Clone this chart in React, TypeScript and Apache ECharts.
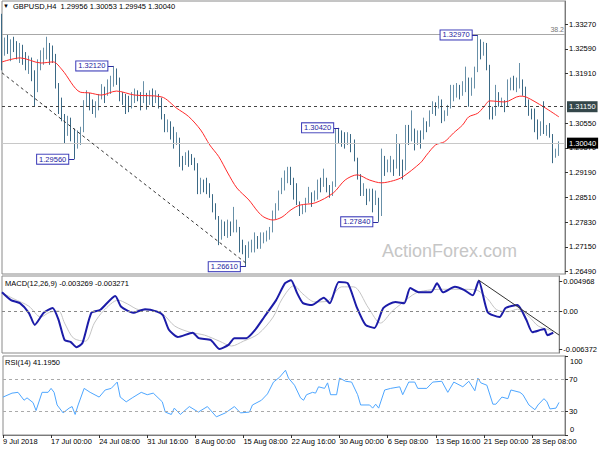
import React, { useEffect, useRef } from "react";
import * as echarts from "echarts";

// ---- price bars (8h buckets) ----
const firstOpen = 1.333;
const highs = [
  1.3355, 1.329, 1.3298, 1.3285, 1.3292, 1.328, 1.3275, 1.327, 1.325, 1.324,
  1.3235, 1.32, 1.323, 1.3255, 1.3262, 1.3292, 1.3275, 1.3268, 1.3245, 1.316,
  1.3125, 1.308, 1.3075, 1.307, 1.304, 1.3035, 1.3045, 1.3118, 1.3145, 1.3138,
  1.312, 1.3115, 1.3135, 1.3162, 1.3155, 1.3175, 1.3185, 1.3212, 1.3205, 1.318,
  1.314, 1.3135, 1.313, 1.314, 1.315, 1.3145, 1.314, 1.317, 1.3138, 1.3145,
  1.315, 1.3145, 1.3135, 1.3125, 1.308, 1.3065, 1.306, 1.3045, 1.303, 1.301,
  1.2965, 1.2975, 1.298, 1.297, 1.296, 1.2945, 1.2905, 1.29, 1.2905, 1.289,
  1.285, 1.2835, 1.2795, 1.279, 1.2785, 1.279, 1.2785, 1.2825, 1.279, 1.2735,
  1.2735, 1.272, 1.273, 1.2735, 1.2755, 1.2745, 1.2755, 1.2755, 1.276, 1.277,
  1.2815, 1.2835, 1.287, 1.2905, 1.2925, 1.2935, 1.2935, 1.2905, 1.289, 1.283,
  1.283, 1.285, 1.288, 1.286, 1.287, 1.29, 1.2905, 1.293, 1.2905, 1.2885,
  1.2895, 1.304, 1.3042, 1.3035, 1.303, 1.303, 1.3025, 1.301, 1.294, 1.2895,
  1.289, 1.2875, 1.2875, 1.2875, 1.287, 1.285, 1.2985, 1.2965, 1.2955, 1.2965,
  1.2955, 1.3025, 1.2985, 1.295, 1.305, 1.305, 1.309, 1.304, 1.3035, 1.3035,
  1.307, 1.306, 1.309, 1.3115, 1.3112, 1.313, 1.3095, 1.309, 1.3105, 1.316,
  1.316, 1.3165, 1.316, 1.317, 1.321, 1.3172, 1.318, 1.321, 1.3297, 1.3285,
  1.3278, 1.3275, 1.3165, 1.31, 1.316, 1.3125, 1.3125, 1.3118, 1.3175, 1.318,
  1.3185, 1.318, 1.322, 1.3175, 1.3155, 1.312, 1.3095, 1.3095, 1.3065, 1.306,
  1.3115, 1.305, 1.3055, 1.2995, 1.2985, 1.3005,
];
const lows = [
  1.32, 1.324, 1.3245, 1.3225, 1.325, 1.323, 1.322, 1.3215, 1.32, 1.319,
  1.317, 1.3102, 1.314, 1.32, 1.3215, 1.323, 1.3215, 1.322, 1.315, 1.308,
  1.306, 1.3, 1.3025, 1.3005, 1.2956, 1.2985, 1.2995, 1.304, 1.31, 1.309,
  1.308, 1.307, 1.309, 1.312, 1.311, 1.313, 1.3135, 1.3155, 1.316, 1.3115,
  1.3105, 1.308, 1.3085, 1.3095, 1.311, 1.3115, 1.309, 1.311, 1.3092, 1.3105,
  1.31, 1.311, 1.3095, 1.3065, 1.303, 1.303, 1.301, 1.2985, 1.2995, 1.2935,
  1.2925, 1.294, 1.2935, 1.294, 1.2925, 1.286, 1.286, 1.2865, 1.286, 1.285,
  1.281, 1.279, 1.272, 1.2735, 1.2745, 1.274, 1.2745, 1.2755, 1.2755, 1.27,
  1.2695, 1.2661, 1.269, 1.27, 1.27, 1.271, 1.271, 1.2725, 1.273, 1.2735,
  1.2755, 1.279, 1.2815, 1.286, 1.287, 1.289, 1.2885, 1.2845, 1.283, 1.28,
  1.2805, 1.281, 1.2835, 1.2825, 1.284, 1.2845, 1.2865, 1.288, 1.2865, 1.285,
  1.2855, 1.288, 1.3, 1.299, 1.2985, 1.2995, 1.2975, 1.295, 1.29, 1.2855,
  1.2855, 1.283, 1.284, 1.281, 1.283, 1.2784, 1.283, 1.291, 1.292, 1.292,
  1.291, 1.2935, 1.291, 1.29, 1.298, 1.2995, 1.3005, 1.298, 1.2995, 1.2985,
  1.302, 1.303, 1.306, 1.308, 1.3075, 1.3095, 1.3055, 1.306, 1.3075, 1.311,
  1.3115, 1.3125, 1.312, 1.313, 1.314, 1.31, 1.313, 1.315, 1.3195, 1.323,
  1.324, 1.32, 1.3065, 1.3065, 1.3075, 1.31, 1.31, 1.3085, 1.3125, 1.3145,
  1.3145, 1.314, 1.315, 1.313, 1.31, 1.3075, 1.3065, 1.303, 1.301, 1.302,
  1.3025, 1.302, 1.3015, 1.2945, 1.296, 1.2965,
];
const closes = [
  1.326, 1.3275, 1.326, 1.327, 1.3268, 1.3245, 1.3255, 1.323, 1.3215, 1.3225,
  1.3185, 1.315, 1.3215, 1.324, 1.3245, 1.326, 1.325, 1.3235, 1.3165, 1.311,
  1.307, 1.302, 1.306, 1.303, 1.2985, 1.302, 1.303, 1.3105, 1.3125, 1.311,
  1.3095, 1.31, 1.3125, 1.315, 1.314, 1.316, 1.317, 1.3195, 1.3175, 1.3125,
  1.312, 1.311, 1.31, 1.313, 1.3135, 1.3125, 1.312, 1.313, 1.311, 1.313,
  1.312, 1.3135, 1.311, 1.3075, 1.304, 1.305, 1.303, 1.301, 1.3015, 1.295,
  1.2945, 1.296, 1.2955, 1.295, 1.294, 1.288, 1.2885, 1.288, 1.2875, 1.286,
  1.2825, 1.28, 1.276, 1.277, 1.276, 1.2775, 1.2765, 1.277, 1.277, 1.2715,
  1.271, 1.2685, 1.2705, 1.272, 1.2735, 1.2725, 1.274, 1.2745, 1.275, 1.276,
  1.2805, 1.282, 1.286, 1.289, 1.291, 1.2915, 1.29, 1.286, 1.284, 1.2815,
  1.282, 1.2835, 1.2865, 1.284, 1.2855, 1.2885, 1.288, 1.29, 1.2875, 1.286,
  1.288, 1.302, 1.3015, 1.301, 1.3, 1.302, 1.2985, 1.296, 1.2915, 1.287,
  1.2875, 1.2845, 1.286, 1.283, 1.2845, 1.28, 1.295, 1.2935, 1.2945, 1.295,
  1.293, 1.3, 1.2955, 1.2925, 1.303, 1.3025, 1.304, 1.3, 1.302, 1.301,
  1.3055, 1.3045, 1.308, 1.31, 1.3095, 1.312, 1.3065, 1.308, 1.3095, 1.314,
  1.3145, 1.315, 1.3135, 1.3155, 1.318, 1.313, 1.316, 1.3195, 1.326, 1.3245,
  1.3265, 1.3215, 1.31, 1.308, 1.314, 1.311, 1.3115, 1.31, 1.316, 1.317,
  1.3165, 1.317, 1.3175, 1.314, 1.311, 1.309, 1.308, 1.3045, 1.303, 1.304,
  1.3035, 1.304, 1.3025, 1.296, 1.297, 1.3004,
];

// ---- moving average (red) ----
const maIdx = [0, 6, 13, 17, 20, 26, 29, 33, 38, 44, 53, 58, 62, 66, 69, 72, 75, 78, 82, 85, 87, 90, 93, 96, 99, 104, 110, 114, 118, 122, 126, 130, 133, 139, 141, 144, 147, 150, 153, 155, 158, 160, 162, 167, 172, 174, 180, 185];
const maVal = [1.3223, 1.3234, 1.322, 1.3223, 1.3201, 1.314, 1.3138, 1.3132, 1.3143, 1.3132, 1.3127, 1.3096, 1.3073, 1.3036, 1.2995, 1.2963, 1.2918, 1.2877, 1.2844, 1.2812, 1.2797, 1.2789, 1.2797, 1.2817, 1.283, 1.2836, 1.2863, 1.2899, 1.2913, 1.2899, 1.2891, 1.2897, 1.2907, 1.2946, 1.2967, 1.2995, 1.3004, 1.3028, 1.305, 1.3072, 1.3082, 1.3099, 1.3116, 1.3113, 1.3129, 1.3127, 1.3099, 1.3072];

// ---- MACD ----
const macdIdx = [0, 3, 6, 9, 11, 14, 17, 19, 21, 23, 25, 27, 30, 33, 38, 40, 44, 48, 52, 54, 56, 59, 64, 66, 70, 73, 76, 78, 82, 85, 88, 92, 95, 97, 99, 101, 104, 108, 110, 113, 116, 119, 122, 125, 128, 132, 135, 137, 140, 144, 146, 148, 152, 155, 158, 160, 163, 167, 169, 173, 176, 178, 182, 183, 185];
const macdVal = [0.0031, 0.0018, 0.0013, -0.0003, -0.0023, -0.0003, 0.0005, -0.0015, -0.0048, -0.0051, -0.006, -0.0053, -0.0003, 0.0002, 0.0025, 0.0007, -0.0003, 0.0003, -0.0001, -0.0007, -0.0031, -0.0043, -0.0036, -0.0045, -0.0048, -0.0063, -0.0056, -0.0045, -0.0045, -0.0031, -0.001, 0.0018, 0.0046, 0.0051, 0.003, 0.0013, 0.001, 0.0022, 0.0013, 0.0048, 0.0046, 0.0007, -0.0023, -0.0028, 0.0005, 0.0015, 0.0013, 0.0038, 0.0031, 0.0031, 0.0046, 0.0031, 0.004, 0.0035, 0.0026, 0.005, -0.0002, -0.001, 0.0005, 0.001, -0.0015, -0.0035, -0.003, -0.004, -0.0036];
const sigIdx = [0, 4, 9, 13, 16, 19, 21, 24, 28, 31, 34, 39, 42, 46, 51, 54, 58, 63, 68, 73, 77, 81, 86, 91, 94, 98, 101, 105, 109, 114, 118, 123, 127, 131, 134, 139, 144, 149, 154, 159, 163, 166, 170, 173, 177, 180, 185];
const sigVal = [0.003, 0.002, 0.0008, -0.001, -0.0002, 0.0, -0.002, -0.0045, -0.005, -0.002, 0.0, 0.0018, 0.0012, 0.0002, 0.0001, -0.0005, -0.0025, -0.0035, -0.004, -0.005, -0.0058, -0.005, -0.0038, -0.001, 0.002, 0.0042, 0.0028, 0.0015, 0.0016, 0.004, 0.004, 0.0005, -0.002, 0.0, 0.0012, 0.003, 0.0035, 0.0036, 0.0036, 0.0035, 0.002, 0.0002, -0.0001, 0.0003, -0.001, -0.0025, -0.0033];

// ---- RSI ----
const rsiIdx = [0, 3, 5, 7, 8, 10, 11, 13, 15, 16, 17, 18, 20, 22, 23, 24, 25, 27, 29, 32, 34, 36, 38, 39, 41, 43, 46, 48, 50, 53, 54, 56, 57, 59, 62, 65, 68, 71, 74, 77, 79, 82, 83, 86, 88, 90, 92, 94, 95, 97, 99, 100, 101, 103, 104, 105, 107, 108, 109, 111, 112, 114, 116, 118, 119, 122, 123, 124, 125, 127, 129, 132, 133, 135, 137, 138, 141, 143, 146, 148, 150, 153, 155, 157, 158, 159, 161, 163, 164, 166, 168, 169, 172, 173, 175, 177, 178, 180, 181, 182, 184, 185];
const rsiVal = [48, 53, 54, 44, 47, 41, 31, 54, 54, 59, 54, 38, 28, 34, 36, 26, 38, 59, 54, 48, 57, 59, 67, 48, 42, 47, 54, 51, 53, 42, 29, 26, 34, 26, 36, 29, 36, 23, 28, 36, 28, 29, 38, 44, 52, 67, 73, 82, 72, 63, 47, 44, 51, 54, 53, 61, 59, 66, 51, 51, 72, 68, 67, 51, 38, 38, 34, 39, 34, 57, 59, 61, 51, 67, 67, 59, 59, 67, 68, 54, 67, 61, 68, 56, 72, 66, 63, 39, 39, 48, 46, 57, 54, 51, 38, 32, 38, 46, 42, 33, 34, 41.2];

// ---- labels ----
const xLabels = ["9 Jul 2018", "17 Jul 00:00", "24 Jul 08:00", "31 Jul 16:00", "8 Aug 00:00", "15 Aug 08:00", "22 Aug 16:00", "30 Aug 00:00", "6 Sep 08:00", "13 Sep 16:00", "21 Sep 00:00", "28 Sep 08:00"];
const xLabelStep = 16;
const priceTicks = [1.3327, 1.3259, 1.3191, 1.3055, 1.2987, 1.2919, 1.2851, 1.2783, 1.2715, 1.2649];
const macdTicks = [0.004968, 0, -0.006372];
const rsiTicks = [100, 70, 30, 0];
const rsiInnerLabels = [70, 30];
const rsiTopLabel = "100";
const rsiBottomLabel = "0";
const pivotIdx = [37, 24, 81, 112, 125, 158];
const pivotVal = [1.3212, 1.2956, 1.2661, 1.3042, 1.2784, 1.3297];
const resistance = 1.3115;
const lastPrice = 1.3004;
const fibLevel = 1.3318;
const trendStart = [0, 1.3193];
const trendEnd = [81, 1.2671];
const macdTrendStart = [160, 0.0051];
const macdTrendEnd = [187, -0.004];
const title = "GBPUSD,H4  1.29956 1.30053 1.29945 1.30040";
const macdTitle = "MACD(12,26,9) -0.003269 -0.003271";
const rsiTitle = "RSI(14) 41.1950";

const FONT = "'Liberation Sans', Arial, sans-serif";
const FS = 7.5;

export default function App() {
  const ref = useRef<HTMLDivElement>(null);
  useEffect(() => {
    const chart = echarts.init(ref.current!, null, { renderer: "svg" });
    const nCat = 188;
    const cats = Array.from({ length: nCat }, (_, i) => String(i));
    const candles = closes.map((c, i) => {
      const o = i === 0 ? firstOpen : closes[i - 1];
      const h = Math.max(highs[i], o, c);
      const l = Math.min(lows[i], o, c);
      return [o, c, l, h];
    });
    const pairs = (idx: number[], val: number[]) => idx.map((x, k) => [x, val[k]]);
    const showLabel = (i: number) => i % xLabelStep === 0 && i / xLabelStep < xLabels.length;

    const hiddenX = (gi: number) => ({
      type: "category", gridIndex: gi, data: cats, boundaryGap: false,
      axisLabel: { show: false }, axisTick: { show: false }, axisLine: { show: false }, splitLine: { show: false },
    });
    const yBase = (gi: number, min: number, max: number, ticks: number[], labels: number[], fmt: (v: number) => string) => ({
      type: "value", gridIndex: gi, position: "right", min, max, scale: true,
      splitLine: { show: false },
      axisLine: { show: true, lineStyle: { color: "#7a7a7a" } },
      axisTick: { show: true, customValues: ticks, length: 3, lineStyle: { color: "#333" } },
      axisLabel: { customValues: labels, formatter: fmt, color: "#000", fontSize: FS, fontFamily: FONT, margin: 4 },
    });

    const boxLabel = (v: number) => ({
      show: true, position: "start", formatter: v.toFixed(5), distance: 0,
      color: "#1c1ca0", backgroundColor: "#ffffff", borderColor: "#3a3ab8", borderWidth: 1,
      padding: [1, 2, 0, 2], fontSize: FS, fontFamily: FONT,
    });
    const font = `${FS}px ${FONT}`;

    const option: any = {
      animation: false,
      backgroundColor: "#ffffff",
      textStyle: { fontFamily: FONT },
      grid: [
        { left: 2, right: 35, top: 1, height: 273, show: true, borderColor: "#8a8a8a", borderWidth: 1, backgroundColor: "transparent" },
        { left: 2, right: 35, top: 276, height: 77, show: true, borderColor: "#8a8a8a", borderWidth: 1, backgroundColor: "transparent" },
        { left: 2, right: 35, top: 356, height: 79, show: true, borderColor: "#8a8a8a", borderWidth: 1, backgroundColor: "transparent" },
      ],
      xAxis: [
        hiddenX(0),
        hiddenX(1),
        {
          type: "category", gridIndex: 2, data: cats, boundaryGap: false,
          axisLine: { show: true, lineStyle: { color: "#7a7a7a" } },
          axisTick: { show: true, interval: (i: number) => showLabel(i), length: 3, lineStyle: { color: "#333" } },
          axisLabel: {
            interval: (i: number) => showLabel(i),
            formatter: (_v: string, i: number) => xLabels[i / xLabelStep] ?? "",
            align: "left", margin: 2, color: "#000", fontSize: FS, fontFamily: FONT,
          },
          splitLine: { show: false },
        },
      ],
      yAxis: [
        yBase(0, 1.26408, 1.33902, priceTicks, priceTicks, (v) => v.toFixed(5)),
        yBase(1, -0.006955, 0.005796, macdTicks, macdTicks, (v) => (v === 0 ? "0.00" : v.toFixed(6))),
        yBase(2, 0, 100, rsiTicks, rsiInnerLabels, (v) => String(v)),
      ],
      graphic: [
        { type: "text", left: 3, top: 3, style: { text: "▼", font: `6px ${FONT}`, fill: "#000" } },
        { type: "text", left: 13, top: 2, style: { text: title, font, fill: "#000" } },
        { type: "text", left: 5, top: 279, style: { text: macdTitle, font, fill: "#000" } },
        { type: "text", left: 5, top: 358, style: { text: rsiTitle, font, fill: "#000" } },
        { type: "text", left: 570, top: 357, style: { text: rsiTopLabel, font, fill: "#000" } },
        { type: "text", left: 570, top: 425, style: { text: rsiBottomLabel, font, fill: "#000" } },
        { type: "text", left: 382, top: 242, z: -1, style: { text: "ActionForex.com", font: `18px ${FONT}`, fill: "#c6c6c6" } },
      ],
      series: [
        {
          type: "candlestick", xAxisIndex: 0, yAxisIndex: 0, data: candles, barWidth: 1,
          itemStyle: { color: "#7ea4ba", color0: "#3b6985", borderColor: "#6890a8", borderColor0: "#3b6985", borderWidth: 1 },
          markLine: {
            silent: true, symbol: ["none", "none"], animation: false,
            data: [
              { yAxis: fibLevel, lineStyle: { color: "#a8a8a8", type: "solid", width: 1 },
                label: { show: true, position: "insideEndTop", formatter: "38.2", color: "#777", fontSize: 7, fontFamily: FONT, distance: 1 } },
              { yAxis: resistance, lineStyle: { color: "#444", type: [3, 3], width: 1 },
                label: { show: true, position: "end", formatter: resistance.toFixed(5), color: "#fff", backgroundColor: "#34474a", padding: [2, 2, 1, 2], distance: 2, fontSize: FS, fontFamily: FONT } },
              { yAxis: lastPrice, lineStyle: { color: "#c8c8c8", type: "solid", width: 1 },
                label: { show: true, position: "end", formatter: lastPrice.toFixed(5), color: "#fff", backgroundColor: "#000", padding: [2, 2, 1, 2], distance: 2, fontSize: FS, fontFamily: FONT } },
              [
                { coord: trendStart, lineStyle: { color: "#333", type: [3, 3], width: 1 }, label: { show: false } },
                { coord: trendEnd },
              ],
              ...pivotIdx.map((i, k) => [
                { coord: [i - 2, pivotVal[k]], lineStyle: { color: "#2a2aa0", type: "solid", width: 1 }, label: boxLabel(pivotVal[k]) },
                { coord: [i, pivotVal[k]] },
              ]),
            ],
          },
        },
        {
          type: "line", xAxisIndex: 0, yAxisIndex: 0, data: pairs(maIdx, maVal), smooth: 0.3,
          showSymbol: false, lineStyle: { color: "#ff2a2a", width: 1 }, z: 3,
        },
        {
          type: "line", xAxisIndex: 1, yAxisIndex: 1, data: pairs(sigIdx, sigVal), smooth: 0.3,
          showSymbol: false, lineStyle: { color: "#c4c4c4", width: 1 },
          markLine: {
            silent: true, symbol: ["none", "none"], label: { show: false },
            data: [{ yAxis: 0, lineStyle: { color: "#888", type: [3, 3], width: 1 } }],
          },
        },
        {
          type: "line", xAxisIndex: 1, yAxisIndex: 1, data: pairs(macdIdx, macdVal), smooth: 0.2,
          showSymbol: false, lineStyle: { color: "#1c1ca8", width: 2 },
          markLine: {
            silent: true, symbol: ["none", "none"], label: { show: false },
            data: [[{ coord: macdTrendStart, lineStyle: { color: "#333", type: "solid", width: 1 } }, { coord: macdTrendEnd }]],
          },
        },
        {
          type: "line", xAxisIndex: 2, yAxisIndex: 2, data: pairs(rsiIdx, rsiVal),
          showSymbol: false, lineStyle: { color: "#4ea6ff", width: 1 },
          markLine: {
            silent: true, symbol: ["none", "none"], label: { show: false },
            data: [
              { yAxis: 70, lineStyle: { color: "#aaa", type: [3, 3], width: 1 } },
              { yAxis: 30, lineStyle: { color: "#aaa", type: [3, 3], width: 1 } },
            ],
          },
        },
      ],
    };
    chart.setOption(option);
    return () => chart.dispose();
  }, []);
  return <div ref={ref} style={{ position: "fixed", left: 0, top: 0, width: 600, height: 450, background: "#fff" }} />;
}
